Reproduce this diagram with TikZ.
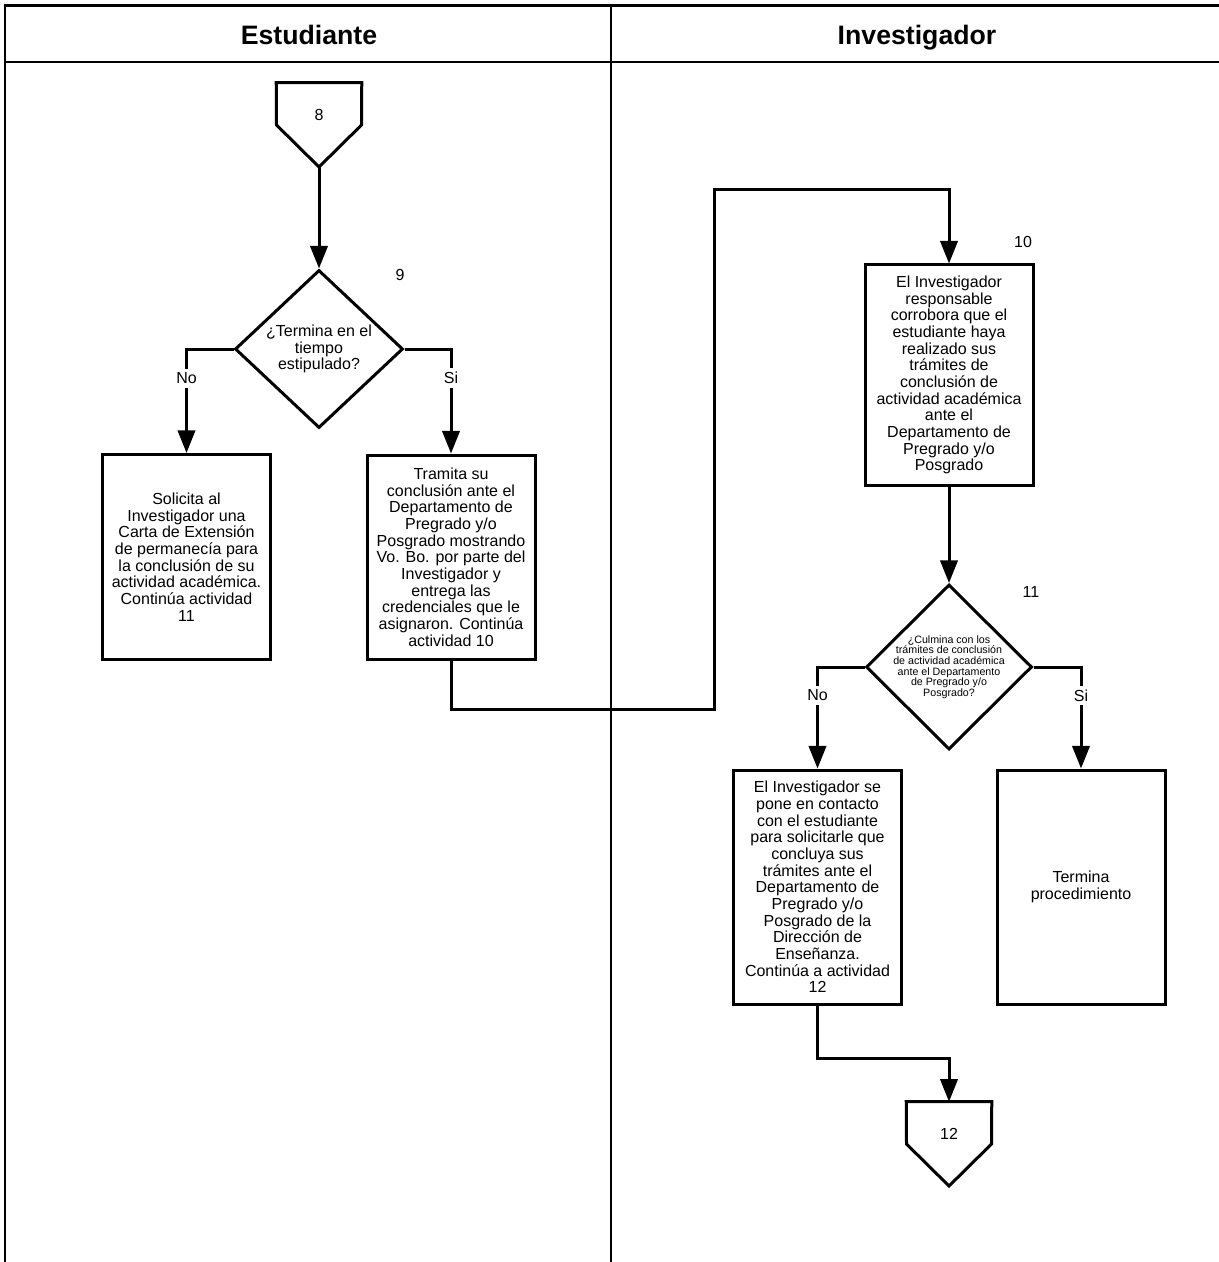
\documentclass[tikz,border=0pt]{standalone}
\usepackage{fontspec}
\setmainfont{Liberation Sans}
\usetikzlibrary{arrows.meta,shapes.geometric}

\begin{document}
\begin{tikzpicture}[x=0.75pt,y=-0.75pt,
  font=\fontsize{12}{12.5}\selectfont,
  lane/.style={line width=1.6pt},
  flow/.style={line width=2.25pt},
  arr/.style={flow,-{Triangle[length=17pt,width=13pt]}},
  process/.style={draw,line width=2.25pt,align=center,inner sep=0pt,minimum width=126pt},
  decision/.style={draw,diamond,line width=2.25pt,inner sep=0pt,align=center},
  offtext/.style={minimum width=63.75pt,minimum height=48pt,inner sep=0pt},
  choice/.style={fill=white,inner sep=3pt},
  stepno/.style={inner sep=0pt},
  lanehead/.style={font=\fontsize{20}{23}\selectfont\bfseries,
                   text height=14.5pt,text depth=0pt,inner sep=0pt}]

  \useasboundingbox (0,0) rectangle (1218,1262);

  % ---- swimlane frame ----
  \draw[lane] (1230,5.5) -- (5,5.5) -- (5,1270);
  \draw[lane] (5,62) -- (1230,62);
  \draw[lane] (611,5.5) -- (611,1270);
  \node[lanehead] (hest) at (309,35) {Estudiante};
  \node[lanehead] (hinv) at (917,35) {Investigador};

  % ---- off-page connector 8 ----
  \node[offtext] (c8) at (319,115) {8};
  \draw[flow] (c8.north west) -- (c8.north east) -- (361.5,125)
        -- (319,167) -- (276.5,125) -- cycle;
  \coordinate (c8tip) at (319,167);

  % ---- activity 9 (Estudiante) ----
  \node[decision,minimum width=126pt,minimum height=118.5pt] (d9)
        at (319,349) {¿Termina en el\\ tiempo\\ estipulado?};
  \node[stepno] (n9) at (400,275) {9};
  \node[process,minimum height=153.75pt] (b9no) at (186.5,557)
        {Solicita al\\ Investigador una\\ Carta de Extensión\\ de permanecía para\\
         la conclusión de su\\ actividad académica.\\ Continúa actividad\\ 11};
  \node[process,minimum height=153pt] (b9si) at (451,557)
        {Tramita su\\ conclusión ante el\\ Departamento de\\ Pregrado y/o\\
         Posgrado mostrando\\ Vo. Bo. por parte del\\ Investigador y\\ entrega las\\
         credenciales que le\\ asignaron. Continúa\\ actividad 10};

  % ---- activity 10 (Investigador) ----
  \node[process,minimum height=165pt] (b10) at (949,375)
        {El Investigador\\ responsable\\ corrobora que el\\ estudiante haya\\
         realizado sus\\ trámites de\\ conclusión de\\ actividad académica\\
         ante el\\ Departamento de\\ Pregrado y/o\\ Posgrado};
  \node[stepno] (n10) at (1023,242) {10};

  % ---- activity 11 ----
  \node[decision,minimum width=124.5pt,minimum height=123.75pt] (d11) at (949,667) {};
  \node[align=center,font=\fontsize{8}{8}\selectfont] (q11) at (d11.center)
        {¿Culmina con los\\ trámites de conclusión\\ de actividad académica\\
         ante el Departamento\\ de Pregrado y/o\\ Posgrado?};
  \node[stepno] (n11) at (1031,592) {11};
  \node[process,minimum height=175.5pt] (b11no) at (817.5,887)
        {El Investigador se\\ pone en contacto\\ con el estudiante\\ para solicitarle que\\
         concluya sus\\ trámites ante el\\ Departamento de\\ Pregrado y/o\\
         Posgrado de la\\ Dirección de\\ Enseñanza.\\ Continúa a actividad\\ 12};
  \node[process,minimum height=175.5pt] (bend) at (1081,887)
        {Termina\\ procedimiento};

  % ---- off-page connector 12 ----
  \node[offtext] (c12) at (949,1134) {12};
  \draw[flow] (c12.north west) -- (c12.north east) -- (991.5,1144)
        -- (949,1186) -- (906.5,1144) -- cycle;

  % ---- flow ----
  \draw[arr] (c8tip) -- (d9.north);
  \draw[arr] (d9.west) -| node[choice,pos=0.64] (no9) {No} (b9no.north);
  \draw[arr] (d9.east) -| node[choice,pos=0.64] (si9) {Si} (b9si.north);
  \draw[arr] (b9si.south) -- ++(0,49) -| (714,190) -| (b10.north);
  \draw[arr] (b10.south) -- (d11.north);
  \draw[arr] (d11.west) -| node[choice,pos=0.64] (no11) {No} (b11no.north);
  \draw[arr] (d11.east) -| node[choice,pos=0.64] (si11) {Si} (bend.north);
  \draw[arr] (b11no.south) -- ++(0,53) -| (c12.north);

\end{tikzpicture}
\end{document}
